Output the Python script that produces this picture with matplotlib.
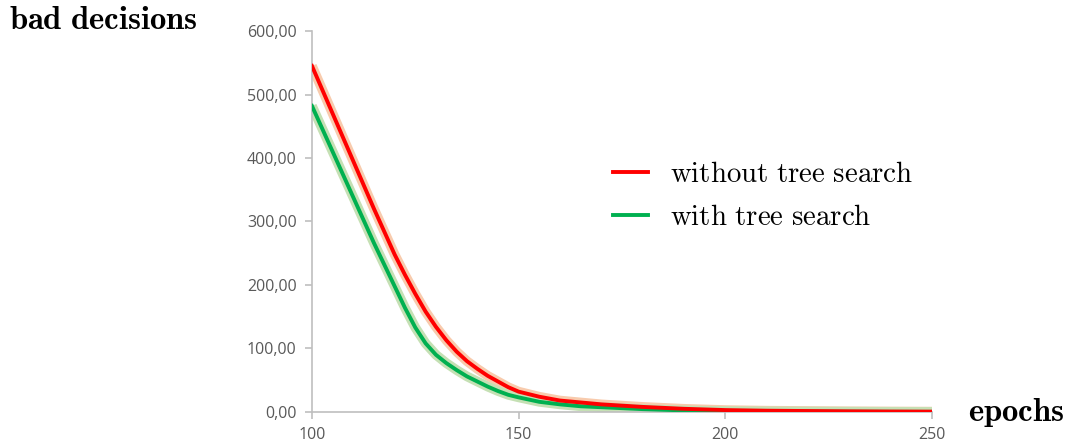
import matplotlib
matplotlib.use("Agg")
import matplotlib.pyplot as plt
from matplotlib.ticker import FuncFormatter

plt.rcParams["mathtext.fontset"] = "cm"

epochs = [100, 105, 110, 115, 117.5, 120, 122.5, 125, 127.5, 130, 132.5, 135, 137.5,
          140, 142.5, 145, 147.5, 150, 155, 160, 165, 170, 175, 180, 185, 190, 195,
          200, 210, 220, 230, 240, 250]
without_ts = [545, 470, 395, 320, 284, 248, 216, 186, 158, 134, 113, 95, 80,
              68, 57, 48, 39, 32, 24, 18, 15, 12, 10, 8, 6.5, 5, 4,
              3, 2, 1.5, 1, 0.7, 0.5]
with_ts = [482, 410, 338, 266, 232, 198, 164, 133, 108, 90, 77, 66, 56,
           48, 40, 33, 27, 23, 16, 12, 9, 7.5, 6, 4.5, 3.5, 2.5, 2,
           1.5, 1, 0.7, 0.5, 0.3, 0.2]
y_ticks = [0, 100, 200, 300, 400, 500, 600]
x_ticks = [100, 150, 200, 250]

fig = plt.figure(figsize=(10.68, 4.45), dpi=100)
ax = fig.add_axes([0.2921, 0.0742, 0.5806, 0.8561])

# light bands behind the lines
ax.plot(epochs, without_ts, color="#f8cbad", lw=7, solid_capstyle="butt", zorder=2)
ax.plot(epochs, with_ts, color="#c5e0b4", lw=7, solid_capstyle="butt", zorder=2)
l1, = ax.plot(epochs, without_ts, color="#ff0000", lw=2.8, zorder=4,
              label=r"$\mathrm{without\ tree\ search}$")
l2, = ax.plot(epochs, with_ts, color="#00b050", lw=2.8, zorder=3,
              label=r"$\mathrm{with\ tree\ search}$")

ax.set_xlim(100, 250)
ax.set_ylim(0, 600)
ax.set_xticks(x_ticks)
ax.set_yticks(y_ticks)
ax.yaxis.set_major_formatter(FuncFormatter(lambda v, p: f"{v:.2f}".replace(".", ",")))
for s in ["top", "right"]:
    ax.spines[s].set_visible(False)
for s in ["left", "bottom"]:
    ax.spines[s].set_color("#bfbfbf")
    ax.spines[s].set_linewidth(1.2)
ax.tick_params(colors="#bfbfbf", length=5, width=1.2, labelcolor="#595959",
               labelsize=11.5, pad=6)
for t in ax.get_xticklabels() + ax.get_yticklabels():
    t.set_fontfamily("Open Sans")

fig.text(0.008, 0.957, r"$\mathbf{bad\ decisions}$", fontsize=23.5, va="center", ha="left")
fig.text(0.906, 0.072, r"$\mathbf{epochs}$", fontsize=23.5, va="center", ha="left")

ax.legend(handles=[l1, l2], loc="center left", bbox_to_anchor=(0.5627, 0.5596),
          bbox_transform=fig.transFigure, frameon=False, fontsize=20.8,
          handlelength=1.24, handletextpad=0.76, labelspacing=0.52, borderpad=0.4,
          borderaxespad=0)

fig.savefig("out.png", dpi=100)
